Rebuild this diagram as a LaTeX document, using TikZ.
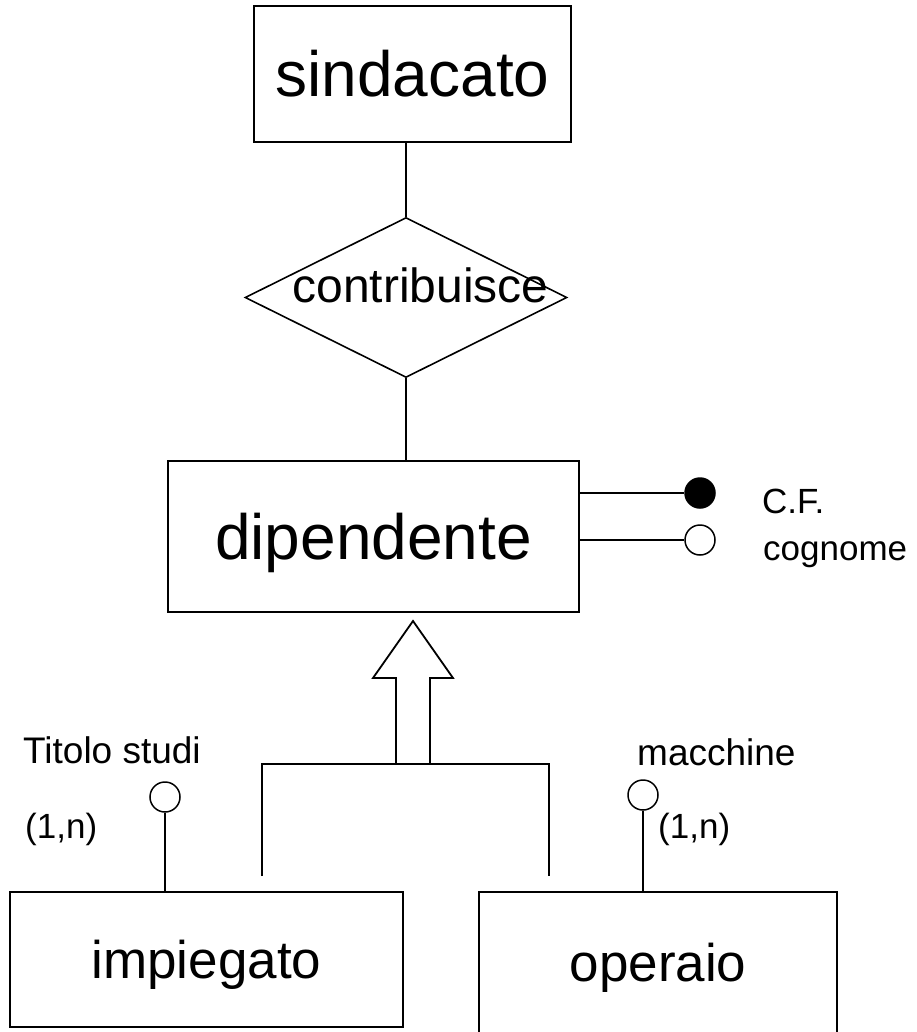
\documentclass[tikz,border=0pt]{standalone}
\usepackage{fontspec}
\setmainfont{Liberation Sans}
\usetikzlibrary{shapes.geometric}
\begin{document}
\begin{tikzpicture}[x=1pt, y=-1pt,
  entity/.style={draw, line width=1.8pt, rectangle, inner sep=0pt},
  bigtext/.style={font=\fontsize{64}{70}\selectfont},
  midtext/.style={font=\fontsize{53}{60}\selectfont},
  reltext/.style={font=\fontsize{48}{54}\selectfont},
  label/.style={font=\fontsize{35}{40}\selectfont, inner sep=0pt, anchor=base west},
  biglabel/.style={label, font=\fontsize{37}{42}\selectfont},
  attr/.style={draw, circle, line width=1.5pt, minimum size=30pt, inner sep=0pt, fill=white},
  keyattr/.style={attr, fill=black},
  link/.style={line width=1.8pt},
  genline/.style={line width=2.4pt}]
\clip (0,0) rectangle (916,1032);
\fill[white] (0,0) rectangle (916,1032);

% entities
\node[entity, bigtext, minimum width=317pt, minimum height=136pt] (sind) at (412.5,74) {sindacato};
\node[entity, bigtext, text depth=0pt, minimum width=411pt, minimum height=151pt] (dip) at (373.5,536.5) {dipendente};
\node[entity, midtext, text depth=0pt, minimum width=393pt, minimum height=135pt] (imp) at (206.5,959.5) {impiegato};
\node[entity, midtext, text height=38pt, text depth=12pt, minimum width=358pt, minimum height=152pt] (ope) at (658,968) {operaio};

% relationship
\node[diamond, draw, line width=1.6pt, minimum width=322pt, minimum height=160pt, inner sep=0pt] (rel) at (406,297.5) {};
\node[reltext, inner sep=0pt, anchor=base] (reltxt) at (420.5,302) {contribuisce};

\draw[link] (sind.south -| rel.north) -- (rel.north);
\draw[link] (rel.south) -- (dip.north -| rel.south);

% attributes of dipendente
\node[keyattr] (cf) at (700,493) {};
\node[attr] (cog) at (700,540) {};
\draw[link] (dip.east |- cf) -- (cf.west);
\draw[link] (dip.east |- cog) -- (cog.west);
\node[label] (cftxt) at (762,513) {C.F.};
\node[label] (cogtxt) at (763,560) {cognome};

% attributes of the subclasses
\node[attr] (tit) at (165,797) {};
\draw[link] (tit.south) -- (imp.north -| tit.south);
\node[biglabel] (tittxt) at (23,763) {Titolo studi};
\node[label] (card1) at (25,838) {(1,n)};

\node[attr] (mac) at (643,795) {};
\draw[link] (mac.south) -- (ope.north -| mac.south);
\node[biglabel] (mactxt) at (637,765) {macchine};
\node[label] (card2) at (658,838) {(1,n)};

% generalization
\coordinate (gl) at (262,764);
\coordinate (gr) at (549,764);
\coordinate (glend) at (262,876);
\coordinate (grend) at (549,876);
\draw[genline] (glend) -- (gl) -- (gr) -- (grend);

\coordinate (tip) at (413,621);
\draw[line width=1.8pt, line join=miter, fill=white]
  (396,764) -- (396,678) -- (373,678) -- (tip) -- (453,678) -- (430,678) -- (430,764) -- cycle;
\end{tikzpicture}
\end{document}
